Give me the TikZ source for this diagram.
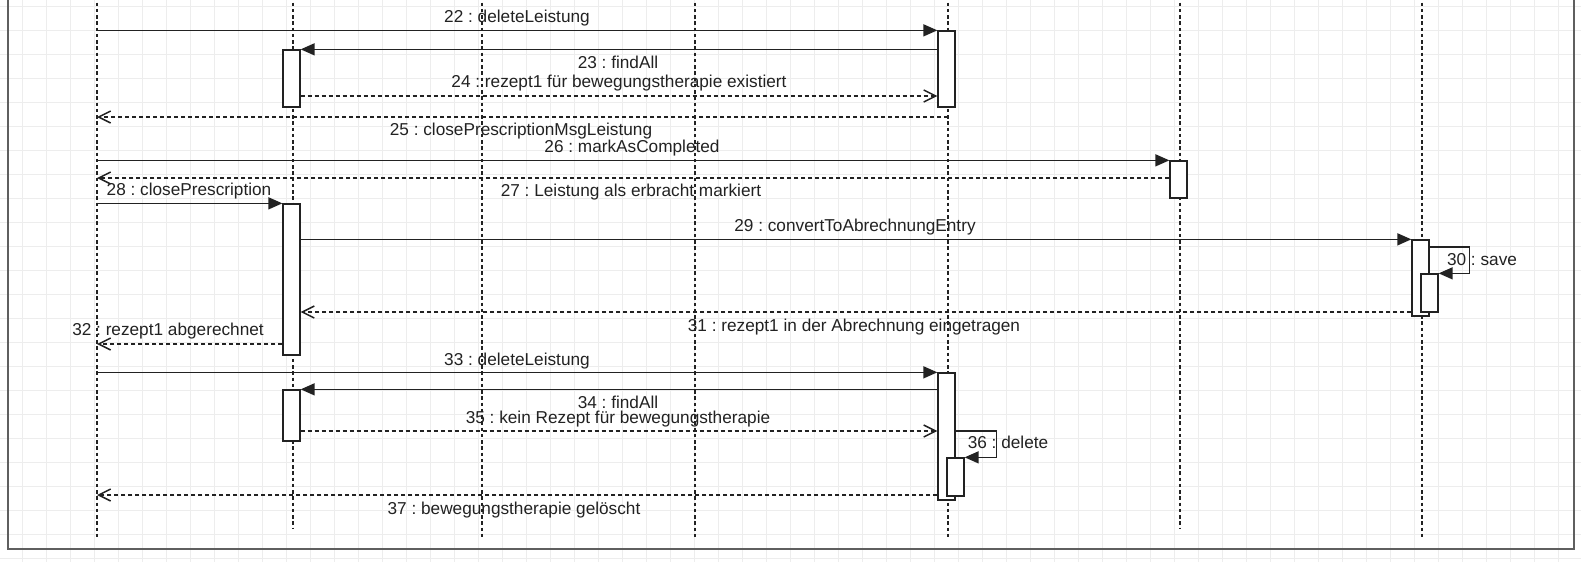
\documentclass[tikz,border=0pt]{standalone}
\usepackage{fontspec}
\setmainfont{Liberation Sans}
\usepackage{tikz}
\usetikzlibrary{arrows.meta,fit}
\definecolor{gridcol}{HTML}{EDEDED}
\definecolor{framecol}{HTML}{5F5F5F}
\definecolor{inkcol}{HTML}{222222}
\frenchspacing

\begin{document}
\begin{tikzpicture}[x=0.2mm, y=-0.2mm,
    life/.style={line width=0.26mm, inkcol, dash pattern=on 0.7mm off 0.55mm},
    act/.style={rectangle, draw=inkcol, fill=white, line width=0.26mm, inner sep=0pt},
    call/.style={line width=0.3mm, inkcol, -{Triangle[length=2.8mm, width=2.4mm]}},
    ret/.style={line width=0.3mm, inkcol, dash pattern=on 0.8mm off 0.6mm,
                -{Straight Barb[length=2.4mm, width=2.4mm]}},
    lbl/.style={font=\fontsize{9.8pt}{11pt}\selectfont, text=inkcol, inner sep=0pt,
                text height=7pt, text depth=2pt, yshift=-0.35mm}]

    \useasboundingbox (0,0) rectangle (1581,562);
    \clip (0,0) rectangle (1581,562);

    % ── Background grid ───────────────────────────────────────────────────────
    \fill[white] (0,0) rectangle (1581,562);
    \foreach \gx in {0,...,65}
        \draw[gridcol, line width=0.2mm] (22.7+24*\gx,0) -- (22.7+24*\gx,562);
    \foreach \gy in {0,...,23}
        \draw[gridcol, line width=0.2mm] (0,6.7+24*\gy) -- (1581,6.7+24*\gy);

    % ── Frame (top edge lies outside the cut) ────────────────────────────────
    \draw[framecol, line width=0.4mm] (8,-20) rectangle (1574,549);

    % ── Lifelines ─────────────────────────────────────────────────────────────
    \foreach \i/\lx/\ly in {1/97/537, 2/293/528, 3/482/537, 4/695/537,
                            5/948/537, 6/1180/528, 7/1422/537} {
        \coordinate (l\i) at (\lx,-10);
        \draw[life] (l\i) -- (\lx,\ly);
    }

    % ── Rows of the return messages ──────────────────────────────────────────
    \foreach \n/\ry in {24/96, 25/117, 27/178, 30/247, 31/312, 32/344, 35/431, 37/495}
        \coordinate (r\n) at (0,\ry);

    % ── Activation bars ───────────────────────────────────────────────────────
    \node[act, fit={(938,31) (955,107)}]   (b22) {};
    \node[act, fit={(283,50) (300,107)}]   (b23) {};
    \node[act, fit={(1170,161) (1187,198)}] (b26) {};
    \node[act, fit={(283,204) (300,355)}]  (b28) {};
    \node[act, fit={(1412,240) (1429,316)}] (b29) {};
    \node[act, fit={(938,373) (955,500)}]  (b33) {};
    \node[act, fit={(283,390) (300,441)}]  (b34) {};

    % ── 22 - 25: deleteLeistung with rezept1 ────────────────────────────────
    \draw[call] (l1 |- b22.north west) -- (b22.north west);
    \node[lbl] (t22) at (517,16) {22 : deleteLeistung};

    \draw[call] (b22.west |- b23.north east) -- (b23.north east);
    \node[lbl] (t23) at (618,62) {23 : findAll};

    \draw[ret] (b23.east |- r24) -- (b22.west |- r24);
    \node[lbl] (t24) at (619,81) {24 : rezept1 für bewegungstherapie existiert};

    \draw[ret] (l5 |- r25) -- (l1 |- r25);
    \node[lbl] (t25) at (521,129) {25 : closePrescriptionMsgLeistung};

    % ── 26 - 27: markAsCompleted ────────────────────────────────────────────
    \draw[call] (l1 |- b26.north west) -- (b26.north west);
    \node[lbl] (t26) at (632,146) {26 : markAsCompleted};

    \draw[ret] (b26.west |- r27) -- (l1 |- r27);
    \node[lbl] (t27) at (631,190) {27 : Leistung als erbracht markiert};

    % ── 28 - 32: closePrescription ──────────────────────────────────────────
    \draw[call] (l1 |- b28.north west) -- (b28.north west);
    \node[lbl] (t28) at (189,189) {28 : closePrescription};

    \draw[call] (b28.east |- b29.north west) -- (b29.north west);
    \node[lbl] (t29) at (855,225) {29 : convertToAbrechnungEntry};

    \node[act, fit={(1421,274) (1438,312)}] (b30) {};
    \draw[call] (b29.east |- r30) -- ++(40,0) |- (b30.north east);
    \node[lbl] (t30) at (1482,259) {30 : save};

    \draw[ret] (b29.west |- r31) -- (b28.east |- r31);
    \node[lbl] (t31) at (854,325) {31 : rezept1 in der Abrechnung eingetragen};

    \draw[ret] (b28.west |- r32) -- (l1 |- r32);
    \node[lbl] (t32) at (168,329) {32 : rezept1 abgerechnet};

    % ── 33 - 37: deleteLeistung without rezept ──────────────────────────────
    \draw[call] (l1 |- b33.north west) -- (b33.north west);
    \node[lbl] (t33) at (517,359) {33 : deleteLeistung};

    \draw[call] (b33.west |- b34.north east) -- (b34.north east);
    \node[lbl] (t34) at (618,402) {34 : findAll};

    \draw[ret] (b34.east |- r35) -- (b33.west |- r35);
    \node[lbl] (t35) at (618,417) {35 : kein Rezept für bewegungstherapie};

    \node[act, fit={(947,458) (964,496)}] (b36) {};
    \draw[call] (b33.east |- r35) -- ++(41,0) |- (b36.north east);
    \node[lbl] (t36) at (1008,442) {36 : delete};

    \draw[ret] (b33.west |- r37) -- (l1 |- r37);
    \node[lbl] (t37) at (514,508) {37 : bewegungstherapie gelöscht};

\end{tikzpicture}
\end{document}
